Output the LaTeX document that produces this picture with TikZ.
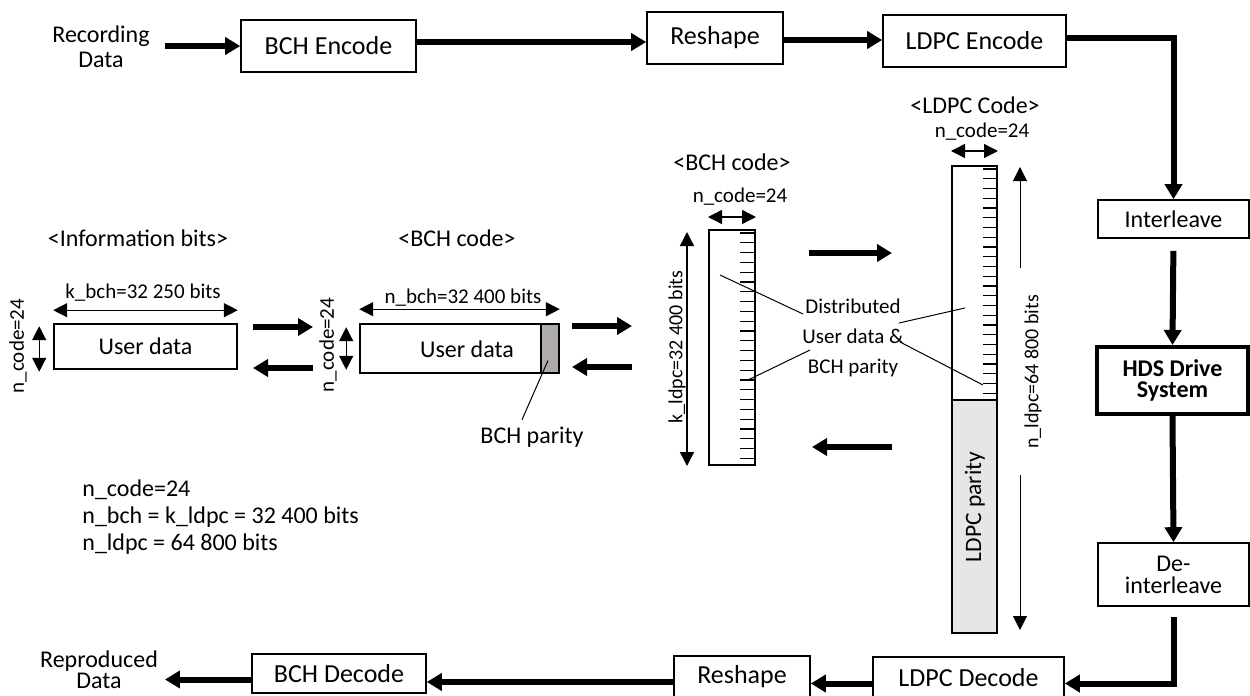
\documentclass[tikz,border=0pt]{standalone}
\usepackage{fontspec}
\setmainfont{Carlito}
\usetikzlibrary{arrows.meta,fit,calc}
\definecolor{bpargray}{HTML}{AFABAB}
\definecolor{lpargray}{HTML}{E6E6E6}
% box from pixel corners: name, x1, y1, x2, y2, options, text
\newcommand\pxbox[7]{\node[box,#6,minimum width={(#4-#2)*0.5pt},minimum height={(#5-#3)*0.5pt}] (#1) at ({(#2+#4)/2},{(#3+#5)/2}) {#7};}
\begin{document}
\begin{tikzpicture}[x=0.5pt,y=-0.5pt,
  box/.style={draw, line width=0.8pt, inner sep=0pt},
  colbox/.style={draw, line width=1pt, inner sep=0pt},
  fbig/.style={font=\fontsize{13}{15}\selectfont},
  fmid/.style={font=\fontsize{12}{14}\selectfont},
  fsml/.style={font=\fontsize{10.5}{12}\selectfont},
  big/.style={line width=3pt, -{Triangle[length=7.5pt,width=8.5pt]}},
  dimarr/.style={line width=0.7pt, {Triangle[length=7pt,width=7pt]}-{Triangle[length=7pt,width=7pt]}},
  thinarr/.style={line width=0.5pt, -{Triangle[length=7pt,width=7pt]}},
  leader/.style={line width=0.5pt},
  tickline/.style={line width=0.6pt},
]
\useasboundingbox (0,0) rectangle (1250,696);

% ---------- top row ----------
\node[font=\fontsize{12}{12.5}\selectfont, align=center] (rec) at (101,47) {Recording\\Data};
\pxbox{bche}{241}{20}{416}{72}{fbig}{BCH Encode}
\pxbox{rsh}{647}{12}{783}{64}{fbig}{Reshape}
\pxbox{ldpce}{883}{15}{1066}{67}{fbig}{LDPC Encode}
\pxbox{intl}{1098}{200}{1249}{238}{fmid}{Interleave}
\pxbox{hds}{1097}{347}{1248}{414}{line width=2pt, font=\fontsize{12}{10.5}\selectfont\bfseries, align=center}{HDS Drive\\System}
\pxbox{deint}{1098}{543}{1249}{606}{font=\fontsize{12}{11}\selectfont, align=center}{De-\\interleave}

% ---------- bottom row ----------
\pxbox{ldpcd}{873}{657}{1064}{698}{fbig}{LDPC Decode}
\pxbox{rsh2}{674}{656}{810}{698}{fbig}{Reshape}
\pxbox{bchd}{252}{654}{426}{693}{fbig}{BCH Decode}
\node[font=\fontsize{12}{10.5}\selectfont, align=center] (rep) at (99,670) {Reproduced\\Data};

% ---------- flow connectors ----------
\draw[big, shorten <=4pt] (rec.east |- bche.west) -- (bche.west);
\coordinate (t1) at ([yshift=2pt]bche.east);
\draw[big] (t1) -- (t1 -| rsh.west);
\coordinate (t2) at ([yshift=-1pt]rsh.east);
\draw[big] (t2) -- (t2 -| ldpce.west);
\draw[big] ([yshift=1.5pt]ldpce.east) -| (intl.north);
\draw[big, shorten <=6pt] (intl.south) -- (hds.north);
\draw[big] (hds.south) -- (deint.north);
\draw[big, shorten <=5pt] (deint.south) |- ([yshift=-3pt]ldpcd.east);
\coordinate (b1) at ([yshift=-3pt]ldpcd.west);
\draw[big] (b1) -- (b1 -| rsh2.east);
\coordinate (b2) at ([yshift=-2.5pt]rsh2.west);
\draw[big] (b2) -- (b2 -| bchd.east);
\coordinate (b3) at ([yshift=-3pt]bchd.west);
\draw[big] (b3) -- (b3 -| rep.east);

% ---------- information bits ----------
\node[fmid] (ihdr) at (138,238) {<Information bits>};
\pxbox{ud1}{54}{324}{237}{369}{fmid}{User data}
\node[fsml] (kbch) at (143,293) {k\_bch=32 250 bits};
\draw[dimarr] ([yshift=6.5pt]ud1.north west) -- ([yshift=6.5pt]ud1.north east);
\draw[dimarr] ([xshift=-7pt,yshift=-1.5pt]ud1.north west) -- ([xshift=-7pt,yshift=-1pt]ud1.south west);
\node[fsml, rotate=90] (nc1) at (18,346) {n\_code=24};

% ---------- BCH code (row) ----------
\node[fmid] (bhdr) at (457,238) {<BCH code>};
\node[box, fit={(360,324)(559,373)}] (bchbox) {};
\node[box, fill=bpargray, fit={(541,324)(559,373)}] (bchpar) {};
\node[fmid] (ud2) at (467,349) {User data};
\node[fsml] (nbch) at (463,298) {n\_bch=32 400 bits};
\draw[dimarr] ([yshift=7pt]bchbox.north west) -- ([yshift=7pt]bchbox.north east);
\draw[dimarr] ([xshift=-6.5pt,yshift=-2pt]bchbox.north west) -- ([xshift=-6.5pt,yshift=2pt]bchbox.south west);
\node[fsml, rotate=90] (nc2) at (328,345) {n\_code=24};
\node[fmid] (bpar) at (532,437) {BCH parity};
\draw[leader] ([shift={(-1pt,-6pt)}]bchpar.center) -- ([xshift=-5pt]bpar.north);

% process arrows left
\coordinate (p1s) at (253,327); \coordinate (p1e) at (313,327);
\coordinate (p2s) at (313,368); \coordinate (p2e) at (253,368);
\coordinate (p3s) at (572,326); \coordinate (p3e) at (632,326);
\coordinate (p4s) at (632,367); \coordinate (p4e) at (572,367);
\draw[big] (p1s) -- (p1e);
\draw[big] (p2s) -- (p2e);
\draw[big] (p3s) -- (p3e);
\draw[big] (p4s) -- (p4e);

% ---------- BCH code (column) ----------
\node[fmid] (vhdr) at (732,162) {<BCH code>};
\node[fsml] (vnc) at (740,197) {n\_code=24};
\node[colbox, fit={(709,230)(755,465)}] (vcol) {};
\draw[dimarr] ([yshift=6pt]vcol.north west) -- ([yshift=6pt]vcol.north east);
\foreach \i in {0,...,23}
  \draw[tickline] ($(vcol.north east)+(-16,{4+9.8*\i})$) -- ++(16,0);
\draw[dimarr] ([xshift=-10.5pt,yshift=-1.5pt]vcol.north west) -- ([xshift=-10.5pt]vcol.south west);
\node[font=\fontsize{10}{12}\selectfont, rotate=90] (kl) at (677,347) {k\_ldpc=32 400 bits};

% ---------- LDPC code (column) ----------
\node[fmid] (lhdr) at (975,105) {<LDPC Code>};
\node[fsml] (lnc) at (982,132) {n\_code=24};
\node[colbox, fill=lpargray, fit={(952,400)(997,633)}] (lpar) {};
\node[colbox, fit={(952,166)(997,400)}] (ldat) {};
\draw[dimarr] ([yshift=7pt]ldat.north west) -- ([yshift=7pt]ldat.north east);
\foreach \i in {0,...,23}
  \draw[tickline] ($(ldat.north east)+(-15,{4+9.75*\i})$) -- ++(15,0);
\node[font=\fontsize{11.75}{13}\selectfont, rotate=90] (lpt) at (975,507) {LDPC parity};
\node[font=\fontsize{10}{12}\selectfont, rotate=90] (nl) at (1033,372) {n\_ldpc=64 800 bits};
\coordinate (u1) at (1020,268); \coordinate (u2) at (1020,167);
\coordinate (d1) at (1020,475); \coordinate (d2) at (1020,630);
\draw[thinarr] (u1) -- (u2);
\draw[thinarr] (d1) -- (d2);

% ---------- distributed label ----------
\node[font=\fontsize{10.5}{15}\selectfont, align=center] (dist) at (853,338) {Distributed\\User data \&\\BCH parity};
\coordinate (la1) at (720,275); \coordinate (la2) at (803,314);
\coordinate (lb1) at (810,350); \coordinate (lb2) at (748,380);
\coordinate (lc1) at (899,323); \coordinate (lc2) at (965,308);
\coordinate (ld1) at (900,342); \coordinate (ld2) at (983,385);
\draw[leader] (la1) -- (la2);
\draw[leader] (lb1) -- (lb2);
\draw[leader] (lc1) -- (lc2);
\draw[leader] (ld1) -- (ld2);

% process arrows middle
\coordinate (q1s) at (809,253); \coordinate (q1e) at (892,253);
\coordinate (q2s) at (892,447); \coordinate (q2e) at (812,447);
\draw[big] (q1s) -- (q1e);
\draw[big] (q2s) -- (q2e);

% ---------- parameters ----------
\node[font=\fontsize{12}{13.3}\selectfont, align=left, anchor=west, inner sep=0pt] (info) at (82,517)
  {n\_code=24\\n\_bch = k\_ldpc = 32 400 bits\\n\_ldpc = 64 800 bits};
\end{tikzpicture}
\end{document}
